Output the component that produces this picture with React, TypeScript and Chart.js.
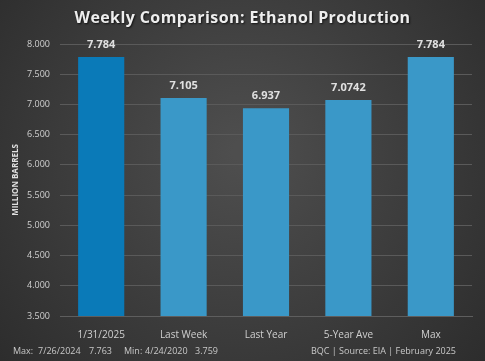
import React, { useEffect, useRef } from "react";
import { Chart, registerables } from "chart.js";

Chart.register(...registerables);

const categories = ["1/31/2025", "Last Week", "Last Year", "5-Year Ave", "Max"];
const values = [7.784, 7.105, 6.937, 7.0742, 7.784];
const valueLabels = ["7.784", "7.105", "6.937", "7.0742", "7.784"];
const barColors = ["#0a7ab8", "#3a98c8", "#3a98c8", "#3a98c8", "#3a98c8"];
const titleText = "Weekly Comparison: Ethanol Production";
const footLeftParts = ["Max:", "7/26/2024", "7.763", "Min:", "4/24/2020", "3.759"];
const footLeftX = [13, 38, 89, 124, 145, 195];
const footRight = "BQC | Source: EIA | February 2025";
const yMin = 3.5;
const yMax = 8.0;
const yStep = 0.5;

const FONT = "'Open Sans', 'DejaVu Sans', sans-serif";

const bgPlugin = {
  id: "bg",
  beforeDraw(chart: any) {
    const { ctx, width, height } = chart;
    ctx.save();
    const g = ctx.createRadialGradient(width / 2, height * 0.42, 10, width / 2, height * 0.45, width * 0.7);
    g.addColorStop(0, "#4e4e4e");
    g.addColorStop(1, "#2a2a2a");
    ctx.fillStyle = g;
    ctx.fillRect(0, 0, width, height);
    ctx.restore();
  },
  afterDraw(chart: any) {
    const { ctx, width } = chart;
    ctx.save();
    ctx.font = `bold 16px ${FONT}`;
    ctx.textAlign = "center";
    ctx.textBaseline = "middle";
    ctx.shadowColor = "rgba(0,0,0,0.7)";
    ctx.shadowOffsetX = 1;
    ctx.shadowOffsetY = 1;
    ctx.shadowBlur = 2;
    ctx.fillStyle = "#eeeeee";
    (ctx as any).letterSpacing = "0.4px";
    ctx.fillText(titleText, width / 2, 18);
    (ctx as any).letterSpacing = "0px";
    ctx.shadowColor = "transparent";
    ctx.font = `9px ${FONT}`;
    ctx.fillStyle = "#c8c8c8";
    ctx.textAlign = "left";
    footLeftParts.forEach((t, i) => ctx.fillText(t, footLeftX[i], 351));
    ctx.textAlign = "right";
    ctx.fillText(footRight, 456, 351);

    const meta = chart.getDatasetMeta(0);
    ctx.font = `bold 11px ${FONT}`;
    ctx.fillStyle = "#e0e0e0";
    ctx.textAlign = "center";
    ctx.textBaseline = "bottom";
    meta.data.forEach((bar: any, i: number) => {
      ctx.fillText(valueLabels[i], bar.x, bar.y - 7);
    });
    ctx.restore();
  },
};

export default function App() {
  const ref = useRef<HTMLCanvasElement>(null);
  useEffect(() => {
    document.body.style.margin = "0";
    const chart = new Chart(ref.current!, {
      type: "bar",
      data: {
        labels: categories,
        datasets: [
          {
            data: values,
            backgroundColor: barColors,
            borderWidth: 0,
            categoryPercentage: 1,
            barPercentage: 0.56,
          },
        ],
      },
      options: {
        animation: false,
        responsive: false,
        layout: { padding: { top: 44, left: 11, right: 13, bottom: 23 } },
        plugins: { legend: { display: false }, tooltip: { enabled: false }, title: { display: false } },
        scales: {
          x: {
            grid: { display: false },
            border: { display: true, color: "#5e5e5e" },
            ticks: { color: "#d0d0d0", font: { family: FONT, size: 10 }, padding: 5 },
            afterFit: (s: any) => {
              s.height = 22;
            },
          },
          y: {
            min: yMin,
            max: yMax,
            ticks: {
              stepSize: yStep,
              color: "#d0d0d0",
              font: { family: FONT, size: 9 },
              padding: 10,
              callback: (v: any) => Number(v).toFixed(3),
            },
            grid: { color: "#5a5a5a", drawTicks: false, lineWidth: 1 },
            border: { display: false },
            title: {
              display: true,
              text: "MILLION BARRELS",
              color: "#e0e0e0",
              font: { family: FONT, size: 8, weight: "bold" },
              padding: 0,
            },
            afterFit: (s: any) => {
              s.width = 49;
            },
          },
        },
      },
      plugins: [bgPlugin],
    });
    return () => chart.destroy();
  }, []);
  return <canvas ref={ref} width={485} height={361} style={{ display: "block" }} />;
}
